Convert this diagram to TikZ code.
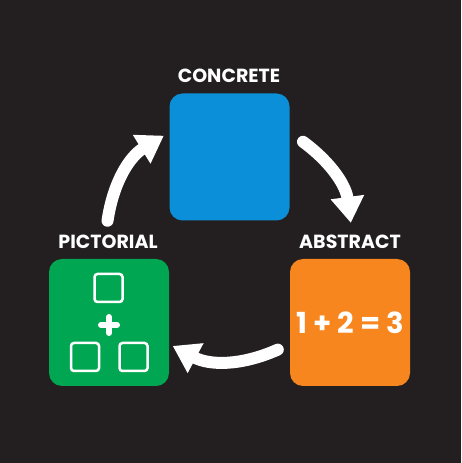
\documentclass[tikz,border=0pt]{standalone}
\usepackage{fontspec}
\setmainfont{Poppins}
\usetikzlibrary{arrows.meta,calc}
\definecolor{bgdark}{HTML}{231F20}
\definecolor{cpablue}{HTML}{0A8FD8}
\definecolor{cpagreen}{HTML}{00A651}
\definecolor{cpaorange}{HTML}{F7861F}
\begin{document}
\begin{tikzpicture}[x=1pt,y=1pt,
  box/.style={rounded corners=13pt, minimum width=120pt, minimum height=127pt, inner sep=0pt},
  title/.style={text=white, font=\bfseries\fontsize{19}{19}\selectfont},
  cycle/.style={white, line width=12pt, line cap=round, -{Triangle[width=32pt,length=26pt]}},
  tile/.style={draw=white, line width=2.5pt, rounded corners=3pt, minimum size=28pt, inner sep=0pt}]
    % Background
        \fill[bgdark] (0,0) rectangle (461,463);
        \useasboundingbox (0,0) rectangle (461,463);
    % Stages
        \node[box, fill=cpablue] (concrete) at (229.5,306) {};
        \node[box, fill=cpagreen] (pictorial) at (109,140.5) {};
        \node[box, fill=cpaorange, text=white, font=\bfseries\fontsize{29}{29}\selectfont] (abstract) at (350,140.5) {1 + 2 = 3};
    % Titles
        \node[title] (concreteT) at (229,387) {CONCRETE};
        \node[title] (pictorialT) at (108,221) {PICTORIAL};
        \node[title] (abstractT) at (350,221) {ABSTRACT};
    % Tiles
        \node[tile] (t1) at (108.5,175) {};
        \node[tile] (t2) at (85,106) {};
        \node[tile] (t3) at (133.5,106) {};
        \draw[white, line width=6pt, line cap=round] (101,138) -- (117,138) (109,130) -- (109,146);
    % Cycle
        \coordinate (O) at (229,223);
        \coordinate (a1) at ($(O)+(171:123)$);
        \coordinate (a2) at ($(O)+(122:123)$);
        \coordinate (b1) at ($(O)+(53:123)$);
        \coordinate (b2) at ($(O)+(8:123)$);
        \coordinate (c1) at ($(O)+(-66:120)$);
        \coordinate (c2) at ($(O)+(-118:120)$);
        \draw[cycle] (a1) to[bend left=25] (a2);
        \draw[cycle] (b1) to[bend left=23] (b2);
        \draw[cycle] (c1) to[bend left=26] (c2);
\end{tikzpicture}
\end{document}
